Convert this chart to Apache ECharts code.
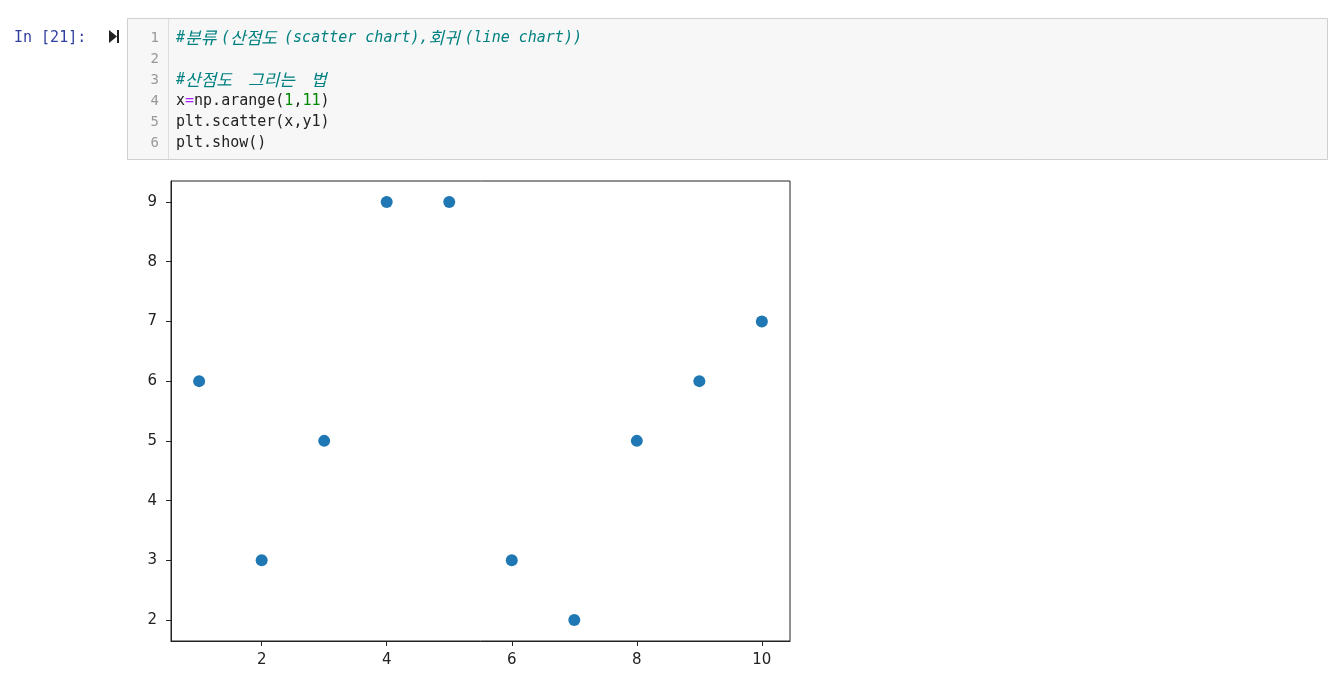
<!DOCTYPE html>
<html><head><meta charset="utf-8">
<script src="https://cdn.jsdelivr.net/npm/echarts@6/dist/echarts.min.js"></script>
<style>html,body{margin:0;padding:0;background:#fff;}#c{width:1343px;height:691px;}</style>
</head><body><div id="c"></div>
<script>
const xValues = [1, 2, 3, 4, 5, 6, 7, 8, 9, 10];
const yValues = [6, 3, 5, 9, 9, 3, 2, 5, 6, 7];
const xTicks = [2, 4, 6, 8, 10];
const yTicks = [2, 3, 4, 5, 6, 7, 8, 9];
const promptText = 'In [21]:';
const lineNumbers = ['1', '2', '3', '4', '5', '6'];

const chart = echarts.init(document.getElementById('c'), null, {renderer: 'canvas'});
const mono = "'DejaVu Sans Mono', monospace";
const ko = "'Noto Sans CJK KR', sans-serif";
const lineY = [38, 59, 80, 101, 122, 143];
const codeX = 176;
const rich = {
  c: {fontFamily: mono, fontSize: 15, fontStyle: 'italic', fill: '#008080'},
  k1: {fontFamily: ko, fontSize: 17, fontStyle: 'italic', fill: '#008080', width: 18},
  k2: {fontFamily: ko, fontSize: 17, fontStyle: 'italic', fill: '#008080', width: 36},
  k3: {fontFamily: ko, fontSize: 17, fontStyle: 'italic', fill: '#008080', width: 54},
  t: {fontFamily: mono, fontSize: 15, fill: '#222'},
  o: {fontFamily: mono, fontSize: 15, fill: '#AA22FF'},
  n: {fontFamily: mono, fontSize: 15, fill: '#008800'}
};
function koSeg(s){ return '{k' + s.length + '|' + s + '}'; }
const codeLines = [
  '{c|#}' + koSeg('분류') + '{c|(}' + koSeg('산점도') + '{c|(scatter chart),}' + koSeg('회귀') + '{c|(line chart))}',
  '',
  '{c|#}' + koSeg('산점도') + '{c| }' + koSeg('그리는') + '{c| }' + koSeg('법'),
  '{t|x}{o|=}{t|np.arange(}{n|1}{t|,}{n|11}{t|)}',
  '{t|plt.scatter(x,y1)}',
  '{t|plt.show()}'
];
const graphics = [
  {type: 'rect', shape: {x: 127.5, y: 18.5, width: 1200, height: 141}, style: {fill: '#f7f7f7', stroke: '#cfcfcf', lineWidth: 1}, z: 0},
  {type: 'line', shape: {x1: 168.5, y1: 19, x2: 168.5, y2: 159}, style: {stroke: '#dddddd', lineWidth: 1}, z: 1},
  {type: 'text', x: 14, y: 38, style: {text: promptText, fontFamily: mono, fontSize: 15, fill: '#303F9F', verticalAlign: 'middle'}, z: 2},
  {type: 'polygon', shape: {points: [[109, 30], [109, 43], [117, 36.5]]}, style: {fill: '#222'}, z: 2},
  {type: 'rect', shape: {x: 117, y: 30, width: 2, height: 13}, style: {fill: '#222'}, z: 2}
];
lineNumbers.forEach((n, i) => {
  graphics.push({type: 'text', x: 159, y: lineY[i], style: {text: n, fontFamily: mono, fontSize: 14, fill: '#999', align: 'right', verticalAlign: 'middle'}, z: 2});
  if (codeLines[i]) graphics.push({type: 'text', x: codeX, y: lineY[i], style: {text: codeLines[i], rich: rich, verticalAlign: 'middle'}, z: 2});
});

chart.setOption({
  animation: false,
  backgroundColor: '#fff',
  grid: {left: 171, top: 181, width: 619, height: 460, show: true, borderColor: '#222', borderWidth: 1, backgroundColor: 'transparent', containLabel: false},
  xAxis: {
    type: 'value', min: 0.55, max: 10.45,
    axisLine: {show: true, lineStyle: {color: '#222'}},
    axisTick: {show: true, inside: false, length: 5, customValues: xTicks, lineStyle: {color: '#222'}},
    axisLabel: {customValues: xTicks, color: '#222', fontFamily: 'DejaVu Sans', fontSize: 15, margin: 12},
    splitLine: {show: false}
  },
  yAxis: {
    type: 'value', min: 1.65, max: 9.35,
    axisLine: {show: true, lineStyle: {color: '#222'}},
    axisTick: {show: true, inside: false, length: 5, customValues: yTicks, lineStyle: {color: '#222'}},
    axisLabel: {customValues: yTicks, color: '#222', fontFamily: 'DejaVu Sans', fontSize: 15, margin: 14},
    splitLine: {show: false}
  },
  series: [{
    type: 'scatter',
    data: xValues.map((x, i) => [x, yValues[i]]),
    symbolSize: 12,
    itemStyle: {color: '#1f77b4', opacity: 1}
  }],
  graphic: graphics
});
</script></body></html>
